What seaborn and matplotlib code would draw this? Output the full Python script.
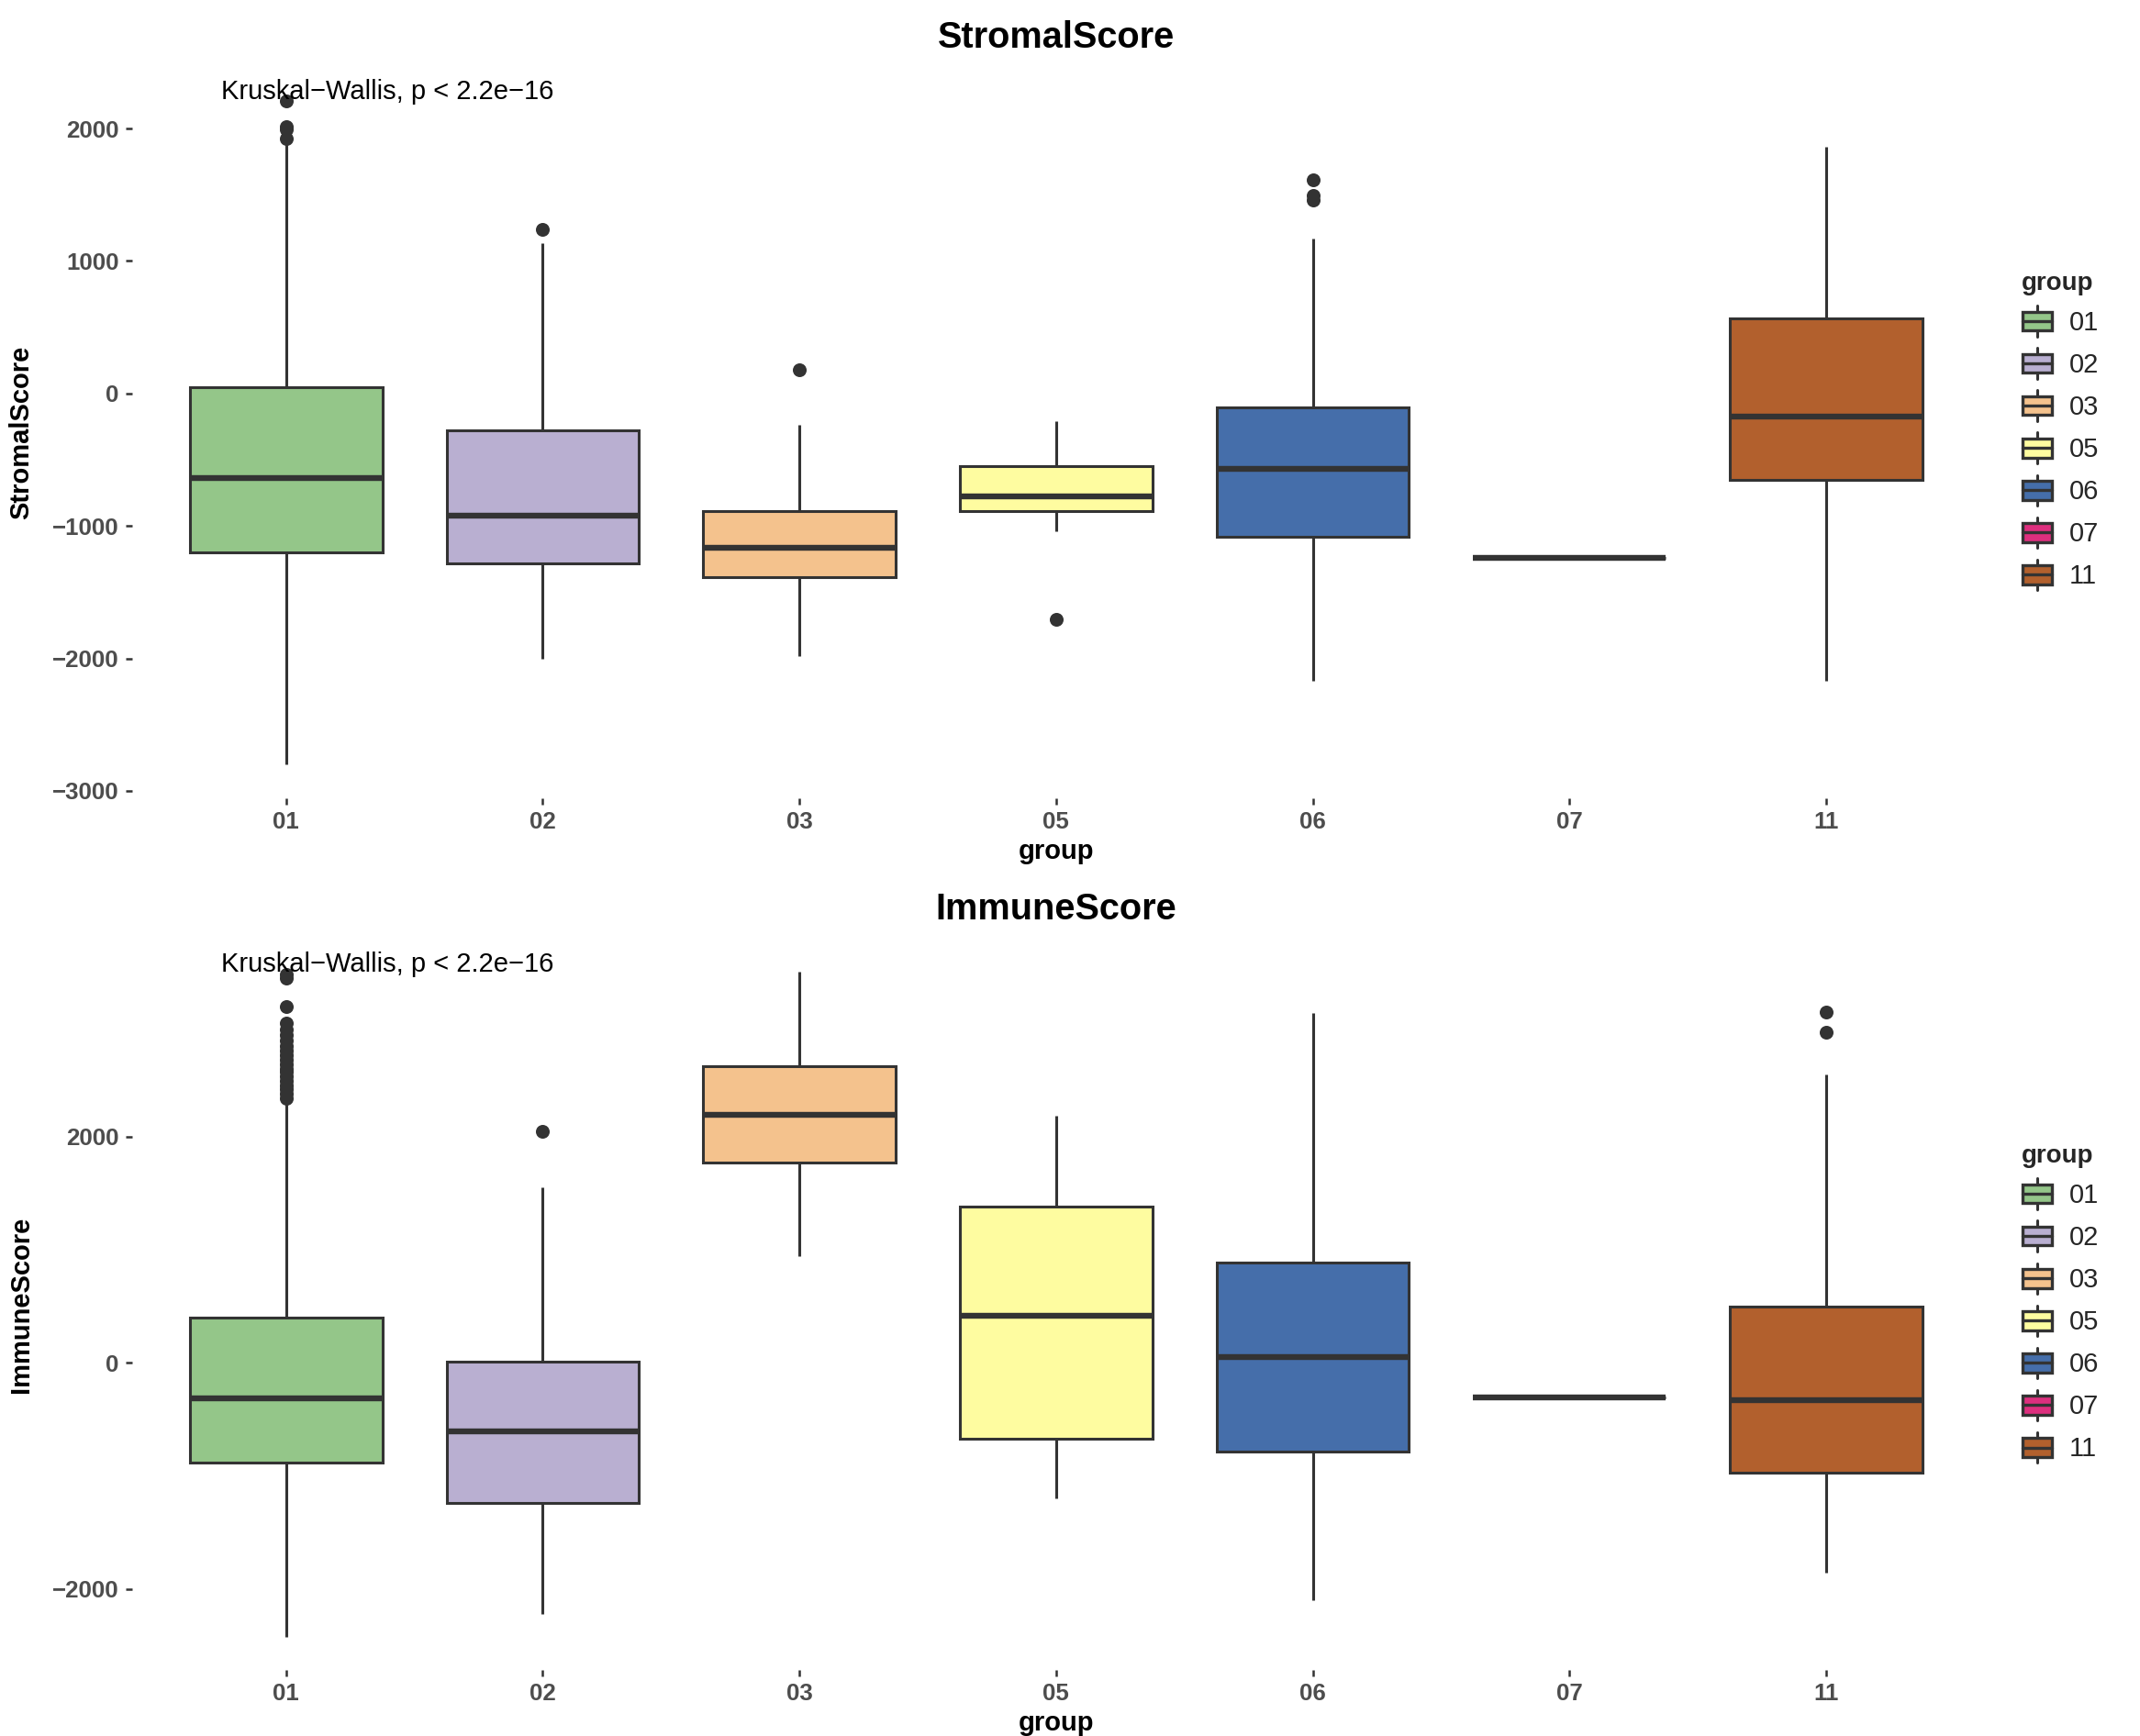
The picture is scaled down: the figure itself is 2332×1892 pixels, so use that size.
import numpy as np
import pandas as pd
import matplotlib
matplotlib.use("Agg")
import matplotlib.pyplot as plt
import seaborn as sns
from matplotlib.legend_handler import HandlerBase
from matplotlib.patches import Patch, Rectangle
from matplotlib.lines import Line2D

# ---------------- data ----------------
groups = ['01', '02', '03', '05', '06', '07', '11']
group_colors = ['#94C689', '#B9AFD1', '#F4C28D', '#FEFCA0', '#456EAA', '#DD2F7E', '#B2602D']

# StromalScore box statistics per group
stromal_lo  = [-2800, -2004, -1983, -1043, -2170, -1240, -2170]
stromal_q1  = [-1200, -1281, -1384,  -888, -1085, -1240,  -651]
stromal_med = [ -640,  -919, -1167,  -775,  -568, -1240,  -176]
stromal_q3  = [   45,  -279,  -888,  -548,  -103, -1240,   568]
stromal_hi  = [ 1895,  1136,  -238,  -207,  1167, -1240,  1860]
stromal_out = [[1925, 1995, 2015, 2210], [1240], [176], [-1705],
               [1461, 1492, 1614], [], []]

# ImmuneScore box statistics per group
immune_lo  = [-2424, -2218,  945, -1200, -2097, -303, -1855]
immune_q1  = [ -885, -1236, 1770,  -667,  -788, -303,  -970]
immune_med = [ -315,  -606, 2194,   412,    48, -303,  -327]
immune_q3  = [  400,    12, 2618,  1382,   885, -303,   497]
immune_hi  = [ 2300,  1551, 3455,  2182,  3091, -303,  2545]
immune_out = [[2340, 2380, 2420, 2450, 2490, 2530, 2570, 2600, 2640, 2680,
               2720, 2760, 2800, 2850, 2900, 2950, 3000, 3150, 3400, 3430],
              [2048], [], [], [], [], [2921, 3103]]

stat_label = "Kruskal\u2212Wallis, p < 2.2e\u221216"


def build_frame(lo, q1, med, q3, hi, outs, m=40):
    rows = []
    for g, a, b, c, d, e, o in zip(groups, lo, q1, med, q3, hi, outs):
        vals = [a] + [b] * m + [c] * m + [d] * m + [e] + list(o)
        rows += [(g, v) for v in vals]
    return pd.DataFrame(rows, columns=['group', 'value'])


stromal_df = build_frame(stromal_lo, stromal_q1, stromal_med, stromal_q3, stromal_hi, stromal_out)
immune_df = build_frame(immune_lo, immune_q1, immune_med, immune_q3, immune_hi, immune_out)

# ---------------- style ----------------
sns.set_theme(style='white')
plt.rcParams['font.family'] = ['Liberation Sans', 'DejaVu Sans']
plt.rcParams['axes.unicode_minus'] = True

LINE = '#333333'
palette = dict(zip(groups, group_colors))

fig = plt.figure(figsize=(11.66, 9.46), dpi=200)
ax_top = fig.add_axes([0.0617, 0.5402, 0.8636, 0.4212])
ax_bot = fig.add_axes([0.0617, 0.0381, 0.8636, 0.4212])


class BoxHandler(HandlerBase):
    def create_artists(self, legend, orig_handle, xdescent, ydescent,
                       width, height, fontsize, trans):
        fc = orig_handle.get_facecolor()
        cx = width / 2 - xdescent
        cy = height / 2 - ydescent
        bh = height * 0.29
        wl = Line2D([cx, cx], [cy - height * 0.47, cy + height * 0.47],
                    color=LINE, lw=1.1, transform=trans)
        rect = Rectangle((-xdescent + width * 0.02, cy - bh), width * 0.96, 2 * bh,
                         facecolor=fc, edgecolor=LINE, lw=1.2, transform=trans)
        med = Line2D([-xdescent + width * 0.02, -xdescent + width * 0.98], [cy, cy],
                     color=LINE, lw=1.2, transform=trans)
        return [wl, rect, med]


def draw_panel(ax, df, title, ylabel, ylim, yticks, label_y, legend_y):
    sns.boxplot(data=df, x='group', y='value', hue='group', order=groups,
                hue_order=groups, palette=palette, saturation=1, width=0.75,
                dodge=False, linecolor=LINE, linewidth=1.1, showcaps=False,
                medianprops=dict(linewidth=2.3, color=LINE, solid_capstyle='butt'),
                flierprops=dict(marker='o', markerfacecolor=LINE,
                                markeredgecolor=LINE, markersize=4.4),
                legend=False, ax=ax)
    ax.set_xlim(-0.6, 6.6)
    ax.set_ylim(*ylim)
    ax.set_yticks(yticks)
    for s in ax.spines.values():
        s.set_visible(False)
    ax.tick_params(axis='both', length=2.6, width=0.9, color=LINE,
                   labelsize=9.3, labelcolor='#4D4D4D', pad=2.6,
                   bottom=True, left=True)
    for lab in ax.get_xticklabels() + ax.get_yticklabels():
        lab.set_fontweight('bold')
    ax.set_title(title, fontsize=14.3, fontweight='bold', color='black', pad=7.5)
    ax.set_xlabel('group', fontsize=10.5, fontweight='bold', color='black', labelpad=2)
    ax.set_ylabel(ylabel, fontsize=10.5, fontweight='bold', color='black', labelpad=7)
    ax.text(-0.254, label_y, stat_label, ha='left', va='center',
            fontsize=10.5, color='black')
    handles = [Patch(facecolor=c, edgecolor=LINE) for c in group_colors]
    fig.legend(handles, groups, loc='center left', bbox_to_anchor=(0.9447, legend_y),
               frameon=False, title='group', alignment='left',
               title_fontproperties={'weight': 'bold', 'size': 10},
               fontsize=10.5, handlelength=1.17, handleheight=1.5,
               labelspacing=0.36, handletextpad=0.6, borderpad=0,
               borderaxespad=0, handler_map={Patch: BoxHandler()})


draw_panel(ax_top, stromal_df, 'StromalScore', 'StromalScore',
           (-3055, 2464), [-3000, -2000, -1000, 0, 1000, 2000], 2278, 0.7516)
draw_panel(ax_bot, immune_df, 'ImmuneScore', 'ImmuneScore',
           (-2714, 3749), [-2000, 0, 2000], 3520, 0.2489)

fig.savefig('out.png', dpi=200, facecolor='white')
